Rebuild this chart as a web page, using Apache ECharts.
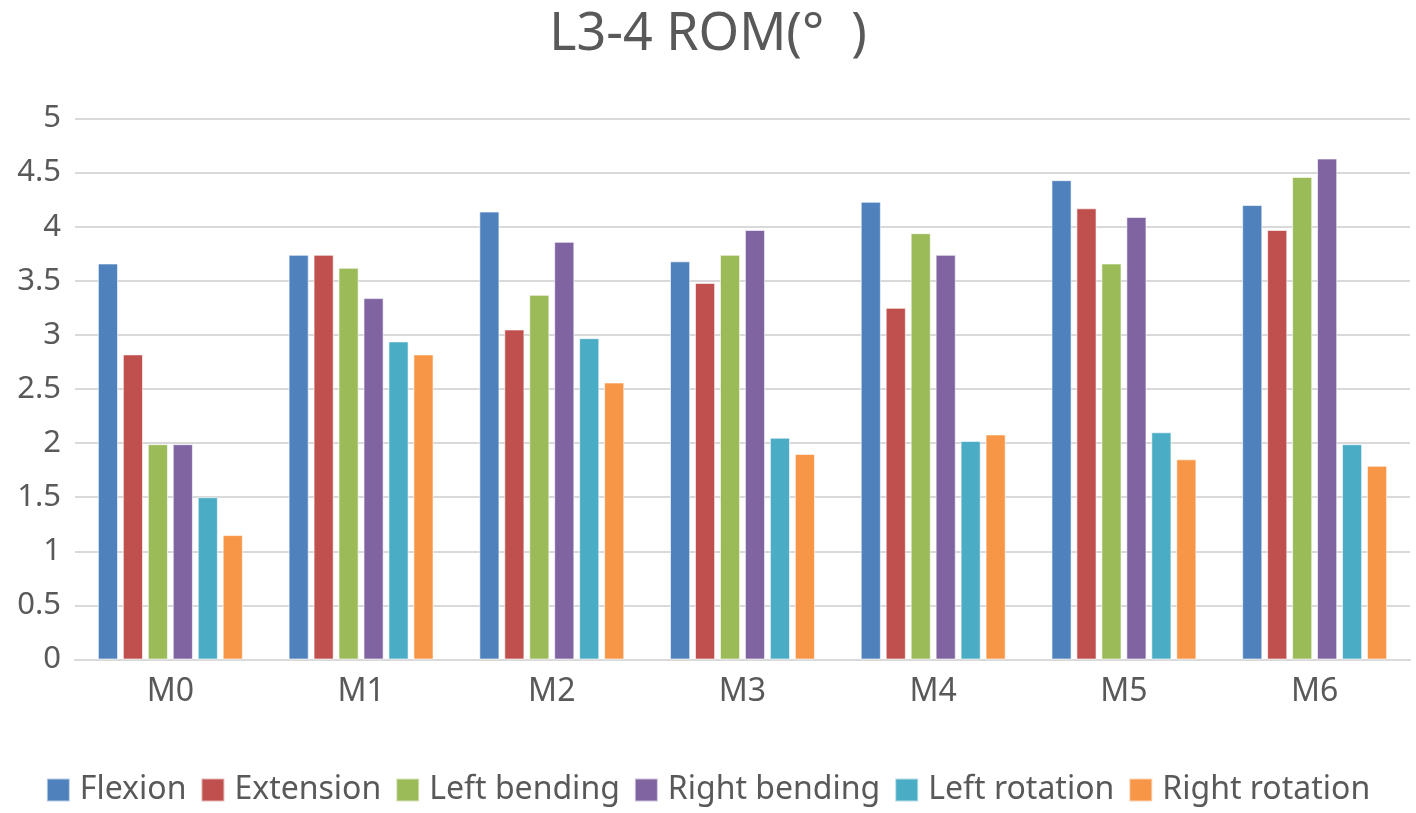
<!DOCTYPE html>
<html><head><meta charset="utf-8">
<script src="https://cdn.jsdelivr.net/npm/echarts@6/dist/echarts.min.js"></script>
<style>html,body{margin:0;padding:0;background:#fff}#c{width:1416px;height:813px}</style>
</head><body><div id="c"></div>
<script>
const categories = ['M0','M1','M2','M3','M4','M5','M6'];
const seriesNames = ['Flexion','Extension','Left bending','Right bending','Left rotation','Right rotation'];
const flexion      = [3.66, 3.74, 4.14, 3.68, 4.23, 4.43, 4.20];
const extension    = [2.82, 3.74, 3.05, 3.48, 3.25, 4.17, 3.97];
const leftBending  = [1.99, 3.62, 3.37, 3.74, 3.94, 3.66, 4.46];
const rightBending = [1.99, 3.34, 3.86, 3.97, 3.74, 4.09, 4.63];
const leftRotation = [1.50, 2.94, 2.97, 2.05, 2.02, 2.10, 1.99];
const rightRotation= [1.15, 2.82, 2.56, 1.90, 2.08, 1.85, 1.79];
const values = [flexion, extension, leftBending, rightBending, leftRotation, rightRotation];
const colors = ['#4F81BD','#C0504D','#9BBB59','#8064A2','#4BACC6','#F79646'];
const font = 'Noto Sans';
const chart = echarts.init(document.getElementById('c'));
chart.setOption({
  animation: false,
  textStyle: {fontFamily: font},
  title: {text: 'L3-4 ROM(°  )', left: 'center', top: 4,
    textStyle: {fontFamily: font, fontSize: 52, fontWeight: 'normal', color: '#595959'}},
  legend: {bottom: 2, left: 'center', itemWidth: 23, itemHeight: 23, itemGap: 14,
    icon: 'rect',
    textStyle: {fontFamily: font, fontSize: 32, color: '#595959', padding: [0,0,0,5]},
    data: seriesNames},
  grid: {left: 75, right: 6, top: 118.5, bottom: 153.5, containLabel: false},
  xAxis: {type: 'category', data: categories,
    axisLine: {lineStyle: {color: '#d9d9d9', width: 2}},
    axisTick: {show: false},
    axisLabel: {fontFamily: font, fontSize: 32, color: '#595959', margin: 16}},
  yAxis: {type: 'value', min: 0, max: 5, interval: 0.5,
    axisLine: {show: false}, axisTick: {show: false},
    splitLine: {lineStyle: {color: '#d9d9d9', width: 2}},
    axisLabel: {fontFamily: font, fontSize: 31, color: '#595959', margin: 14}},
  series: seriesNames.map((n, i) => ({
    name: n, type: 'bar', data: values[i],
    barGap: '24%', barCategoryGap: '24%',
    itemStyle: {color: colors[i], borderColor: 'rgba(255,255,255,0.6)', borderWidth: 1}
  }))
});
</script></body></html>
